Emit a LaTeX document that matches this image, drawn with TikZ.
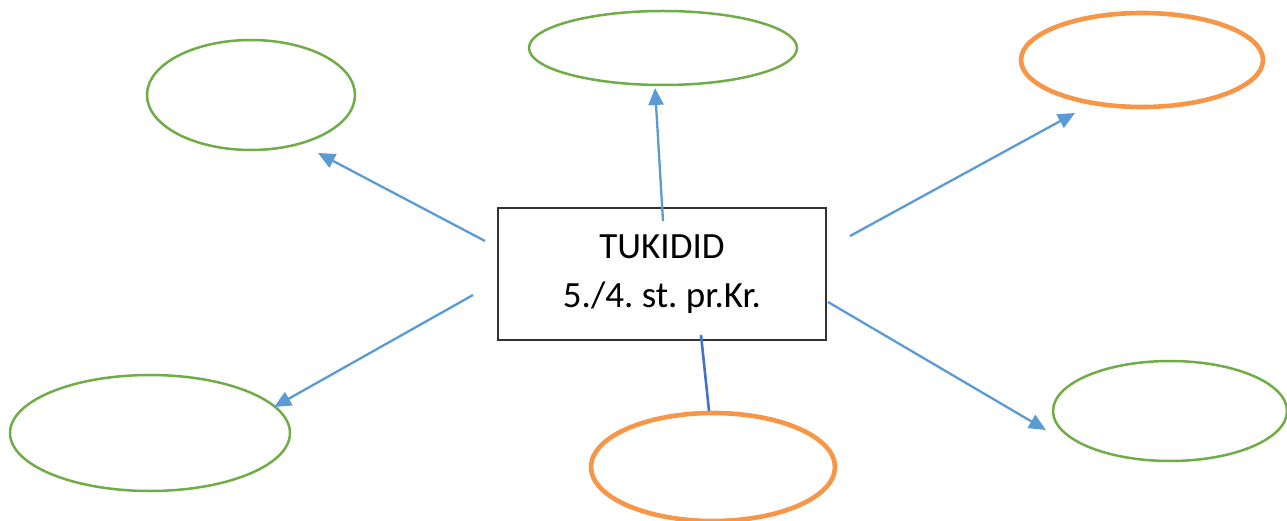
\documentclass[tikz,border=0pt]{standalone}
\usepackage{fontspec}
\setmainfont{Carlito}
\usetikzlibrary{shapes.geometric,arrows.meta}
\definecolor{lgreen}{HTML}{70AD47}
\definecolor{lorange}{HTML}{F79646}
\definecolor{lblue}{HTML}{5B9BD5}
\definecolor{dblue}{HTML}{4472C4}
\frenchspacing
\begin{document}
\begin{tikzpicture}[x=1pt,y=-1pt,
  gell/.style={draw=lgreen,line width=2.5pt,ellipse,inner sep=0pt},
  oell/.style={draw=lorange,line width=4.6pt,ellipse,inner sep=0pt},
  conn/.style={draw=lblue,line width=2.3pt,-{Triangle[length=17pt,width=15pt]}},
  plain/.style={draw=dblue,line width=2.6pt}]
\useasboundingbox[fill=white] (0,0) rectangle (1287,521);
\node[draw=black!80,line width=1.5pt,minimum width=328pt,minimum height=132pt,inner sep=0pt,
  align=center,font=\fontsize{37pt}{49pt}\selectfont] (box) at (662,274) {TUKIDID\\5./4. st. pr.Kr.};
\node[gell,minimum width=208pt,minimum height=110pt] (tl) at (251,95) {};
\node[gell,minimum width=268pt,minimum height=74pt] (tc) at (663,48) {};
\node[oell,minimum width=242pt,minimum height=94pt] (tr) at (1142,60) {};
\node[gell,minimum width=280pt,minimum height=116pt] (bl) at (150,433) {};
\node[oell,minimum width=244pt,minimum height=108pt] (bc) at (713,467) {};
\node[gell,minimum width=234pt,minimum height=100pt] (br) at (1170,411) {};
\coordinate (a1s) at (485,241); \coordinate (a1e) at (318,153);
\coordinate (a2s) at (663,221); \coordinate (a2e) at (655,88);
\coordinate (a3s) at (850,236); \coordinate (a3e) at (1075,113);
\coordinate (a4s) at (473,295); \coordinate (a4e) at (274,407);
\coordinate (a5s) at (701,335); \coordinate (a5e) at (709,411);
\coordinate (a6s) at (828,302); \coordinate (a6e) at (1046,430);
\draw[conn] (a1s) -- (a1e);
\draw[conn] (a2s) -- (a2e);
\draw[conn] (a3s) -- (a3e);
\draw[conn] (a4s) -- (a4e);
\draw[plain] (a5s) -- (a5e);
\draw[conn] (a6s) -- (a6e);
\end{tikzpicture}
\end{document}
